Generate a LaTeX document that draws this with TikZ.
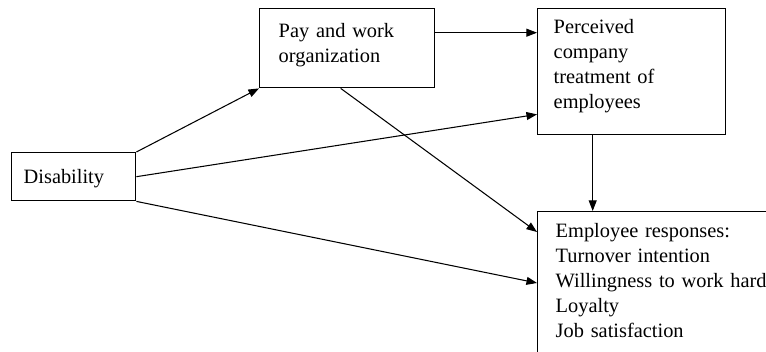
\documentclass[tikz,border=0pt]{standalone}
\usepackage{fontspec}
\setmainfont{Liberation Serif}
\usetikzlibrary{arrows.meta}

\begin{document}
\begin{tikzpicture}
    [x=0.02cm,y=-0.02cm,
      box/.style={draw,line width=.8pt,anchor=north west,align=left,inner ysep=0pt,
        font=\fontsize{11.6}{14.2}\selectfont},
      link/.style={line width=.6pt,-{Triangle[length=6pt,width=4.5pt]}}]

    \path[use as bounding box,clip] (0,0) rectangle (766,351);

    \node[box,text width=2cm,inner xsep=.24cm,text height=.62cm,text depth=.34cm] (dis) at (11,152) {Disability};
    \node[box,text width=2.74cm,inner xsep=.38cm,text height=.58cm,text depth=1cm] (pay) at (259,8) {Pay and work\\organization};
    \node[box,text width=3.12cm,inner xsep=.32cm,text height=.5cm,text depth=2.02cm] (per) at (537,8) {Perceived\\company\\treatment of\\employees};
    \node[box,text width=4.6cm,inner xsep=.36cm,text height=.52cm,text depth=3cm] (emp) at (537,211) {Employee responses:\\Turnover intention\\Willingness to work hard\\Loyalty\\Job satisfaction};

    \draw[link] ([yshift=.31cm]pay.east) -- ([yshift=.31cm]pay.east -| per.west);
    \draw[link] (dis.north east) -- (pay.south west);
    \draw[link] (dis.east) -- ([yshift=.42cm]per.south west);
    \draw[link] (dis.south east) -- ([yshift=-1.44cm]emp.north west);
    \draw[link] ([xshift=-.13cm]pay.south) -- ([yshift=-.42cm]emp.north west);
    \draw[link] ([xshift=-.78cm]per.south) -- ([xshift=-.78cm]per.south |- emp.north);

\end{tikzpicture}
\end{document}
